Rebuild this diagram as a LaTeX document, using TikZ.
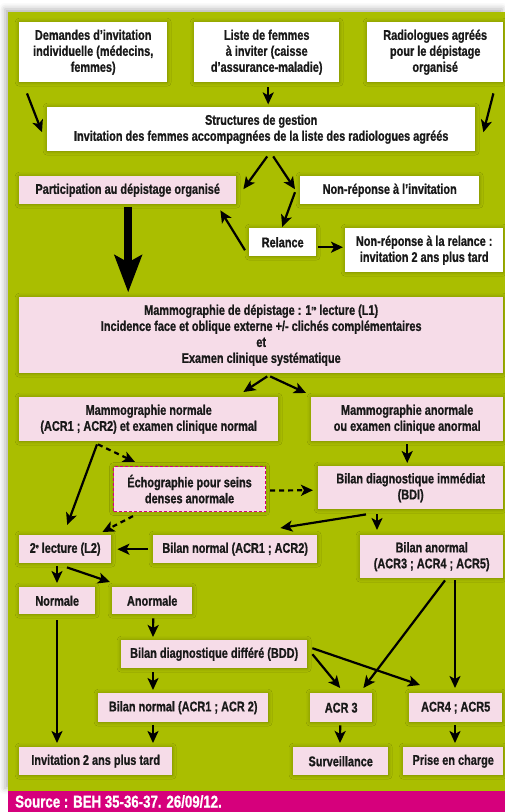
\documentclass[tikz,border=0pt]{standalone}
\usepackage{fontspec}
\setmainfont{Liberation Sans}[FakeStretch=0.78, BoldFeatures={FakeBold=0.9}]
\usetikzlibrary{arrows.meta,calc,shadows.blur}
\definecolor{vert}{RGB}{170,190,0}
\definecolor{rose}{RGB}{246,220,232}
\definecolor{magent}{RGB}{214,0,124}
\definecolor{ink}{RGB}{25,25,25}
\newcommand\supx[1]{\raisebox{4.5pt}{\fontsize{6.5}{6.5}\selectfont #1}}
\tikzset{
  box/.style={anchor=north west, inner sep=1pt, align=center, text=ink,
    blur shadow={shadow xshift=0pt, shadow yshift=0pt, shadow blur radius=4pt, shadow opacity=30}},
  wbox/.style={box, fill=white},
  pbox/.style={box, fill=rose},
  arr/.style={line width=2.2pt, draw=black, -{Stealth[width=11pt,length=12pt,inset=3pt]}},
  darr/.style={arr, dash pattern=on 5pt off 4pt},
  bigarr/.style={line width=8pt, draw=black, -{Stealth[width=27pt,length=37pt,inset=7pt]}}
}
\begin{document}
\begin{tikzpicture}[x=1pt, y=-1pt, font=\fontsize{14}{16}\selectfont\bfseries]
\useasboundingbox (0,0) rectangle (505,812);
\fill[vert, blur shadow={shadow xshift=-3pt, shadow yshift=3pt, shadow blur radius=6pt, shadow opacity=30}] (8,12) rectangle (505,791);
\fill[magent] (8,791) rectangle (505,812);
\node[anchor=west, text=white, font=\fontsize{17}{20}\selectfont\bfseries, inner sep=0pt] (src) at (15,801.5) {Source : BEH 35-36-37. 26/09/12.};

% boxes
\node[wbox, minimum width=148pt, minimum height=60pt] (dem) at (19,22) {Demandes d’invitation\\individuelle (médecins,\\femmes)};
\node[wbox, minimum width=145pt, minimum height=60pt] (liste) at (194,22) {Liste de femmes\\à inviter (caisse\\d’assurance-maladie)};
\node[wbox, minimum width=136pt, minimum height=60pt] (radio) at (367,22) {Radiologues agréés\\pour le dépistage\\organisé};
\node[wbox, minimum width=428pt, minimum height=44pt] (struct) at (47,107) {Structures de gestion\\Invitation des femmes accompagnées de la liste des radiologues agréés};
\node[pbox, minimum width=217pt, minimum height=28pt] (part) at (19,176) {Participation au dépistage organisé};
\node[wbox, minimum width=179pt, minimum height=28pt] (nonrep) at (300,176) {Non-réponse à l’invitation};
\node[wbox, minimum width=67pt, minimum height=28pt] (relance) at (249,228) {Relance};
\node[wbox, minimum width=158pt, minimum height=44pt] (nonrel) at (345,228) {Non-réponse à la relance :\\invitation 2 ans plus tard};
\node[pbox, minimum width=484pt, minimum height=76pt] (mammo) at (19,297) {Mammographie de dépistage : 1\supx{re} lecture (L1)\\Incidence face et oblique externe +/- clichés complémentaires\\et\\Examen clinique systématique};
\node[pbox, minimum width=259pt, minimum height=44pt] (normal) at (19,397) {Mammographie normale\\(ACR1 ; ACR2) et examen clinique normal};
\node[pbox, minimum width=192pt, minimum height=44pt] (anorm) at (311,397) {Mammographie anormale\\ou examen clinique anormal};
\node[pbox, minimum width=152pt, minimum height=45pt, draw=magent, line width=1.1pt, dash pattern=on 3pt off 2pt] (echo) at (113,466) {Échographie pour seins\\denses anormale};
\node[pbox, minimum width=185pt, minimum height=43pt] (bdi) at (318,466) {Bilan diagnostique immédiat\\(BDI)};
\node[pbox, minimum width=92pt, minimum height=28pt] (l2) at (19,535) {2\supx{e} lecture (L2)};
\node[pbox, minimum width=164pt, minimum height=28pt] (bnorm) at (153,535) {Bilan normal (ACR1 ; ACR2)};
\node[pbox, minimum width=143pt, minimum height=43pt] (banorm) at (360,535) {Bilan anormal\\(ACR3 ; ACR4 ; ACR5)};
\node[pbox, minimum width=76pt, minimum height=27pt] (normale) at (19,587) {Normale};
\node[pbox, minimum width=80pt, minimum height=27pt] (anormale) at (112,587) {Anormale};
\node[pbox, minimum width=186pt, minimum height=28pt] (bdd) at (121,640) {Bilan diagnostique différé (BDD)};
\node[pbox, minimum width=170pt, minimum height=29pt] (bnorm2) at (98,693) {Bilan normal (ACR1 ; ACR 2)};
\node[pbox, minimum width=62pt, minimum height=29pt] (acr3) at (310,693) {ACR 3};
\node[pbox, minimum width=93pt, minimum height=29pt] (acr45) at (409,693) {ACR4 ; ACR5};
\node[pbox, minimum width=153pt, minimum height=28pt] (invit) at (19,747) {Invitation 2 ans plus tard};
\node[pbox, minimum width=95pt, minimum height=28pt] (surv) at (293,747) {Surveillance};
\node[pbox, minimum width=100pt, minimum height=28pt] (prise) at (403,747) {Prise en charge};

% connectors
\draw[arr] ($(dem.south west)+(8,11)$) -- ($(struct.west)+(-5,3)$);
\draw[arr] ($(liste.south)+(1.5,5)$) -- ($(liste.south)+(1.5,22)$);
\draw[arr] ($(radio.south east)+(-10,11)$) -- ($(struct.east)+(8,3)$);
\draw[arr] ($(struct.south)+(6,5)$) -- ($(part.east)+(7,-1)$);
\draw[arr] ($(struct.south)+(12,5)$) -- ($(nonrep.west)+(-5,-1)$);
\draw[arr] ($(nonrep.west)+(-5,2)$) -- ($(relance.north)+(-0.5,-1)$);
\draw[arr] ($(relance.west)+(-4,8)$) -- ($(part.south east)+(-16,6)$);
\draw[arr] ($(relance.east)+(2,5)$) -- ($(nonrel.west)+(-2,-3)$);
\draw[bigarr] ($(part.south)+(0.5,3)$) -- ($(part.south)+(0.5,88)$);
\draw[arr] ($(mammo.south)+(6,3)$) -- ($(normal.north east)+(-35,-5)$);
\draw[arr] ($(mammo.south)+(9,3)$) -- ($(anorm.north west)+(-5,-4)$);
\draw[arr] ($(anorm.south)+(0,3)$) -- ($(bdi.north)+(-3.5,-3)$);
\draw[darr] ($(normal.south west)+(79,3)$) -- ($(echo.north west)+(22,-4)$);
\draw[arr] ($(normal.south west)+(78,3)$) -- ($(l2.north)+(2,-10)$);
\draw[darr] ($(echo.east)+(4,1.5)$) -- ($(bdi.west)+(-5,2.5)$);
\draw[darr] ($(echo.south west)+(20,4)$) -- ($(l2.north east)+(-9,-3)$);
\draw[arr] ($(bdi.south west)+(48,5)$) -- ($(bnorm.north east)+(-37,-7)$);
\draw[arr] ($(bdi.south west)+(59,5)$) -- ($(banorm.north west)+(17,-5)$);
\draw[arr] ($(bnorm.west)+(-5,0)$) -- ($(l2.east)+(6,0)$);
\draw[arr] ($(l2.south west)+(38,3)$) -- ($(normale.north west)+(38,-4)$);
\draw[arr] ($(l2.south west)+(48,4)$) -- ($(anormale.north west)+(-2,-5)$);
\draw[arr] ($(normale.south west)+(38,6)$) -- ($(invit.north west)+(38,-4)$);
\draw[arr] ($(anormale.south)+(1,4)$) -- ($(bdd.north west)+(32,-3)$);
\draw[arr] ($(bdd.east)+(5,0)$) -- ($(acr3.north)+(-1,-5)$);
\draw[arr] ($(bdd.east)+(5,-6)$) -- ($(acr45.north west)+(11,-8)$);
\draw[arr] ($(banorm.south west)+(85,2)$) -- ($(acr3.north east)+(-9,-5)$);
\draw[arr] ($(banorm.south west)+(95,2)$) -- ($(acr45.north west)+(46,-5)$);
\draw[arr] ($(bdd.south west)+(32,4)$) -- ($(bnorm2.north west)+(55,-3)$);
\draw[arr] ($(bnorm2.south west)+(55,3)$) -- ($(invit.north west)+(134,-4)$);
\draw[arr] ($(acr3.south)+(-1,3)$) -- ($(surv.north west)+(47,-4)$);
\draw[arr] ($(acr45.south west)+(46,3)$) -- ($(prise.north west)+(52,-4)$);
\end{tikzpicture}
\end{document}
